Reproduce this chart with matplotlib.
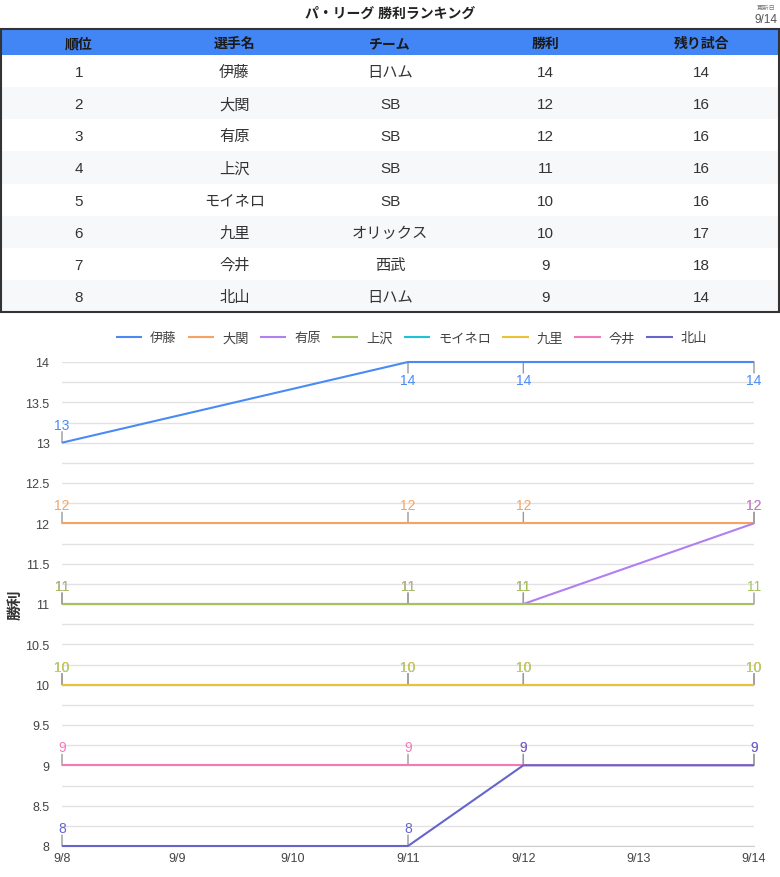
import matplotlib
matplotlib.use("Agg")
import matplotlib.pyplot as plt
from matplotlib.patches import Rectangle
from matplotlib.ticker import MultipleLocator, FuncFormatter

plt.rcParams['font.family'] = ['Liberation Sans', 'Noto Sans CJK JP', 'DejaVu Sans']

# ---------------- data ----------------
title = "パ・リーグ 勝利ランキング"
updated_label = "更新日"
updated_date = "9/14"

table_header = ["順位", "選手名", "チーム", "勝利", "残り試合"]
ranks = [1, 2, 3, 4, 5, 6, 7, 8]
players = ["伊藤", "大関", "有原", "上沢", "モイネロ", "九里", "今井", "北山"]
teams = ["日ハム", "SB", "SB", "SB", "SB", "オリックス", "西武", "日ハム"]
wins = [14, 12, 12, 11, 10, 10, 9, 9]
remaining = [14, 16, 16, 16, 16, 17, 18, 14]

dates = ["9/8", "9/9", "9/10", "9/11", "9/12", "9/13", "9/14"]
point_dates = ["9/8", "9/11", "9/12", "9/14"]
series = {
    "伊藤":   [13, 14, 14, 14],
    "大関":   [12, 12, 12, 12],
    "有原":   [11, 11, 11, 12],
    "上沢":   [11, 11, 11, 11],
    "モイネロ": [10, 10, 10, 10],
    "九里":   [10, 10, 10, 10],
    "今井":   [9, 9, 9, 9],
    "北山":   [8, 8, 9, 9],
}
colors = ["#4a8af4", "#f7a25e", "#b17ff0", "#a5c35a", "#1fc3d6", "#ebc236", "#f27ab9", "#6565cc"]
y_label = "勝利"

# ---------------- figure ----------------
W, H = 780, 878
fig = plt.figure(figsize=(W / 100, H / 100), dpi=100)
bg = fig.add_axes([0, 0, 1, 1])
bg.set_xlim(0, W)
bg.set_ylim(H, 0)
bg.axis("off")

bg.text(390, 14, title, ha="center", va="center", fontsize=10, fontweight="bold", color="#222")
bg.text(766, 8, updated_label, ha="center", va="center", fontsize=4.5, color="#777")
bg.text(766, 20, updated_date, ha="center", va="center", fontsize=8.5, color="#555")

# table
tx0, tx1 = 1, 779
ty0, hy = 30, 56
row_h = (313 - hy) / len(ranks)
col_w = (tx1 - tx0) / len(table_header)
bg.add_patch(Rectangle((tx0, ty0), tx1 - tx0, hy - ty0, facecolor="#4285f4", edgecolor="none"))
for j, h in enumerate(table_header):
    bg.text(tx0 + col_w * (j + 0.5), (ty0 + hy) / 2 + 1, h, ha="center", va="center",
            fontsize=10, fontweight="bold", color="#1a1a1a")
rows = list(zip(ranks, players, teams, wins, remaining))
for i, r in enumerate(rows):
    y0 = hy + i * row_h
    fc = "#ffffff" if i % 2 == 0 else "#f7f8fa"
    bg.add_patch(Rectangle((tx0, y0), tx1 - tx0, row_h, facecolor=fc, edgecolor="none"))
    for j, v in enumerate(r):
        bg.text(tx0 + col_w * (j + 0.5), y0 + row_h / 2 + 1, str(v), ha="center", va="center",
                fontsize=11, color="#333")
bg.add_patch(Rectangle((tx0, ty0), tx1 - tx0, 313 - ty0, facecolor="none", edgecolor="#333", lw=1.5))

# chart
ax_l, ax_r, ax_t, ax_b = 62, 754, 363, 847
ax = fig.add_axes([ax_l / W, (H - ax_b) / H, (ax_r - ax_l) / W, (ax_b - ax_t) / H])
ax.set_xlim(0, len(dates) - 1)
ax.set_ylim(8, 14)
ax.set_xticks(range(len(dates)))
ax.set_xticklabels(dates)
ax.yaxis.set_major_locator(MultipleLocator(0.5))
ax.yaxis.set_minor_locator(MultipleLocator(0.25))
ax.yaxis.set_major_formatter(FuncFormatter(lambda v, p: f"{v:g}"))
ax.grid(True, axis="y", which="both", color="#e2e2e2", lw=1)
ax.set_axisbelow(True)
for s in ["top", "right", "left"]:
    ax.spines[s].set_visible(False)
ax.spines["bottom"].set_color("#cccccc")
ax.tick_params(axis="both", which="both", length=0, labelsize=9, colors="#444")
ax.tick_params(axis="y", pad=9)
ax.tick_params(axis="x", pad=4)

xi = [dates.index(d) for d in point_dates]
for (name, vals), c in zip(series.items(), colors):
    ax.plot(xi, vals, color=c, lw=1.5, label=name, solid_capstyle="butt", clip_on=False, zorder=3)
    for x, v in zip(xi, vals):
        sgn = -1 if v >= 14 else 1
        ax.annotate("", xy=(x, v), xytext=(0, sgn * 11), textcoords="offset pixels",
                    arrowprops=dict(arrowstyle="-", color="#999", lw=1, shrinkA=0, shrinkB=0),
                    zorder=2, annotation_clip=False)
        ax.annotate(str(v), xy=(x, v), xytext=(0, sgn * 18), textcoords="offset pixels",
                    ha="center", va="center", fontsize=10, color=c, zorder=4,
                    annotation_clip=False)

ax.set_ylabel(y_label, fontsize=11, fontweight="bold", color="#333")
ax.yaxis.set_label_coords(-(ax_l - 23) / (ax_r - ax_l), 0.5)

ax.legend(loc="center", bbox_to_anchor=(0.505, 1 + (363 - 339) / (ax_b - ax_t)), ncol=8,
          frameon=False, fontsize=9.5, handlelength=2.0, handletextpad=0.6, columnspacing=0.85,
          labelcolor="#444")

fig.savefig("out.png", dpi=100)
